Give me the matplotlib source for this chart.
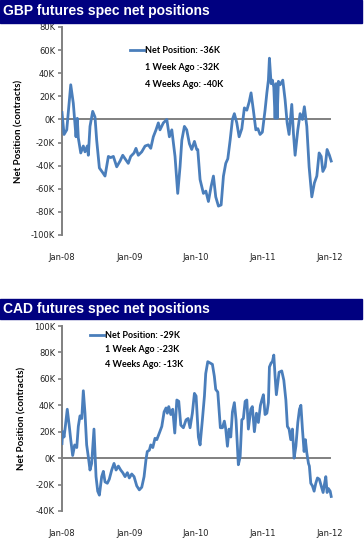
import matplotlib
matplotlib.use("Agg")
import matplotlib.pyplot as plt
from matplotlib.lines import Line2D
from matplotlib.patches import Rectangle
import matplotlib.ticker as mticker
import matplotlib.dates as mdates
import pandas as pd

# weeks since 2008-01-01 and net positions (thousands of contracts)
gbp_week = [0, 1.6, 3.7, 6.8, 8.8, 10.9, 11.9, 12.7, 14.6, 16.6, 17.9, 19.7, 20.5, 21.8,
            23.9, 25.7, 27.0, 29.1, 31.7, 33.5, 36.1, 37.9, 40.0, 42.6, 45.2, 47.3, 49.1,
            51.6, 53.5, 56.1, 57.6, 59.4, 62.1, 64.7, 67.2, 69.1, 71.1, 73.2, 75.0, 76.3,
            78.9, 81.6, 83.6, 85.5, 88.0, 90.1, 91.9, 93.3, 95.3, 97.1, 99.2, 101.0, 103.1,
            104.9, 105.7, 107.5, 110.1, 112.0, 114.0, 116.1, 117.9, 119.7, 121.8, 123.9,
            125.7, 127.5, 129.1, 130.9, 132.7, 134.2, 136.1, 137.9, 140.0, 142.0, 143.9,
            145.7, 147.2, 149.0, 150.9, 152.5, 154.2, 156.0, 158.1, 159.5, 160.7, 161.5,
            162.8, 163.8, 164.9, 165.9, 166.7, 167.5, 168.5, 169.8, 171.9, 173.7, 175.3,
            176.8, 178.9, 180.2, 181.5, 183.6, 185.4, 187.2, 188.7, 190.6, 192.4, 194.5,
            196.5, 198.4, 200.2, 201.8, 203.1, 204.9, 206.4, 208.2, 209.6]
gbp_val = [6, -13, -9, 30, 14, -15, 1, -16, -29, -23, -28, -23, -31, -6,
           7, 2, -18, -42, -46, -49, -32, -33, -32, -41, -36, -31, -34,
           -38, -32, -29, -25, -31, -28, -23, -22, -25, -15, -9, -3, -9,
           -3, 0, -15, -9, -32, -64, -41, -18, -6, -9, -21, -26, -19,
           -26, -26, -52, -64, -62, -71, -58, -49, -67, -75, -74,
           -49, -38, -34, -18, 0, 5, -3, -15, -8, 10, 8,
           15, 23, 8, -9, -8, -13, -11, 8, 23, 34, 53,
           31, 34, 28, 1, 31, 1, 33, 30, 34, 17, -3,
           -13, 13, -12, -31, -9, 5, 0, 11, -6, -41, -67,
           -55, -49, -29, -32, -45, -41, -26, -31, -36]

cad_week = [0, 0.5, 1.6, 2.6, 4.1, 5.7, 6.8, 8.3, 9.9, 11.5, 12.7, 14.0, 15.4, 16.6,
            17.9, 19.2, 20.5, 21.8, 23.1, 24.9, 26.5, 27.8, 29.1, 30.9, 32.2, 33.5, 35.3,
            36.8, 38.7, 40.5, 42.1, 43.9, 45.7, 47.3, 49.1, 50.9, 52.4, 54.3, 56.1, 58.2,
            60.2, 62.1, 63.9, 65.4, 66.4, 68.0, 69.1, 70.7, 72.4, 73.8, 75.8, 77.7, 79.5,
            81.0, 82.0, 83.1, 84.7, 86.2, 87.8, 89.4, 90.9, 92.5, 94.5, 96.6, 98.2, 99.7,
            101.5, 103.1, 104.4, 106.2, 107.5, 109.3, 110.9, 111.9, 113.5, 115.3, 117.1,
            118.6, 119.7, 121.3, 122.3, 123.3, 124.9, 126.4, 127.5, 128.8, 130.1, 131.4,
            132.7, 134.2, 135.5, 137.3, 138.7, 140.0, 141.2, 142.6, 143.9, 145.1, 147.0,
            148.2, 149.8, 151.4, 152.9, 154.5, 155.6, 156.8, 158.1, 159.5, 160.7, 161.5,
            162.8, 163.8, 164.9, 165.9, 166.9, 168.0, 169.0, 171.1, 172.7, 174.3, 175.5,
            176.8, 178.1, 179.4, 180.7, 182.1, 183.6, 184.9, 186.0, 187.2, 188.5, 189.5,
            190.6, 191.9, 192.6, 193.7, 195.0, 196.3, 197.6, 198.9, 200.4, 201.8, 203.3,
            204.3, 205.4, 206.4, 207.4, 208.8, 209.6]
cad_val = [11, 20, 16, 24, 37, 24, 14, 2, 10, 8, 24, 32, 30, 51,
           34, 10, 1, -9, -4, 22, -14, -25, -28, -14, -10, -18, -19,
           -16, -9, -4, -9, -6, -9, -11, -14, -11, -15, -12, -14, -21,
           -24, -22, -14, -1, 5, 6, 10, 8, 15, 14, 19, 24, 35,
           38, 34, 39, 33, 37, 19, 44, 43, 25, 23, 29, 30, 23,
           34, 49, 47, 16, 10, 29, 47, 64, 73, 72, 71,
           62, 52, 50, 37, 23, 23, 28, 22, 9, 22, 16,
           35, 42, 29, -5, 1, 29, 30, 43, 44, 22, 37,
           39, 20, 34, 27, 40, 44, 48, 33, 34, 42, 69,
           72, 73, 78, 62, 48, 57, 65, 66, 59, 44, 24,
           22, 14, 22, 0, 9, 27, 37, 40, 22, 5, 14,
           4, -4, -6, -19, -21, -25, -19, -15, -16, -21, -26,
           -20, -14, -26, -23, -25, -29]

gbp_legend = ["Net Position: -36K", "1 Week Ago :-32K", "4 Weeks Ago: -40K"]
cad_legend = ["Net Position: -29K", "1 Week Ago :-23K", "4 Weeks Ago: -13K"]
year_ticks = ["2008-01-01", "2009-01-01", "2010-01-01", "2011-01-01", "2012-01-01"]

W, H = 364, 543
fig = plt.figure(figsize=(W / 100, H / 100), dpi=100)
navy = "#000080"
blue = "#4A7EBB"
grey = "#808080"
start = pd.Timestamp("2008-01-01")


def px(x0, y0, x1, y1):
    return [x0 / W, 1 - y1 / H, (x1 - x0) / W, (y1 - y0) / H]


def title_bar(y0, y1, text):
    fig.patches.append(Rectangle((0, 1 - y1 / H), 362 / W, (y1 - y0) / H,
                                 transform=fig.transFigure, color=navy, zorder=0))
    fig.text(3 / W, 1 - (y0 + y1) / 2 / H, text, color="white", fontsize=10,
             fontweight="bold", family="Liberation Sans", va="center", ha="left")


def panel(rect, weeks, vals, ylim, step, labels, leg_xy, spacing):
    ax = fig.add_axes(rect)
    dates = start + pd.to_timedelta([w * 7 for w in weeks], unit="D")
    ax.plot(dates, [v * 1000 for v in vals], color=blue, lw=2.0, zorder=3)
    ax.axhline(0, xmin=0, xmax=0.99, color=grey, lw=1.4, zorder=2)
    ax.set_xlim(start, pd.Timestamp("2012-01-17"))
    ax.set_ylim(ylim[0] * 1000, ylim[1] * 1000)
    ax.yaxis.set_major_locator(mticker.MultipleLocator(step * 1000))
    ax.yaxis.set_major_formatter(mticker.FuncFormatter(lambda v, p: f"{v / 1000:.0f}K"))
    ax.set_xticks(pd.to_datetime(year_ticks))
    ax.xaxis.set_major_formatter(mdates.DateFormatter("%b-%y"))
    for s in ["top", "right", "bottom"]:
        ax.spines[s].set_visible(False)
    ax.spines["left"].set_color(grey)
    ax.spines["left"].set_linewidth(1.4)
    ax.tick_params(axis="y", colors=grey, length=3, width=1.2, labelsize=6,
                   labelcolor="#222222", pad=2)
    ax.tick_params(axis="x", length=0, labelsize=6, labelcolor="#222222", pad=13)
    ax.set_ylabel("Net Position (contracts)", fontsize=7, fontweight="bold",
                  family="Lato", labelpad=5)
    ax.set_facecolor("none")
    handles = [Line2D([], [], color=blue, lw=2.0),
               Line2D([], [], color="none"), Line2D([], [], color="none")]
    ax.legend(handles, labels, loc="upper left", bbox_to_anchor=leg_xy, frameon=False,
              borderpad=0, borderaxespad=0, handlelength=1.6, handletextpad=0.1,
              labelspacing=spacing, prop={"family": "Lato", "weight": "bold", "size": 6.5})
    return ax


title_bar(0, 23, "GBP futures spec net positions")
panel(px(62, 27, 333, 235), gbp_week, gbp_val, (-100, 80), 20, gbp_legend,
      ((130 - 62) / 271, (235 - 46) / 208), 0.9)

title_bar(299, 319, "CAD futures spec net positions")
panel(px(62, 326, 333, 511), cad_week, cad_val, (-40, 100), 20, cad_legend,
      ((90 - 62) / 271, (511 - 331) / 185), 0.6)

fig.savefig("out.png", dpi=100)
